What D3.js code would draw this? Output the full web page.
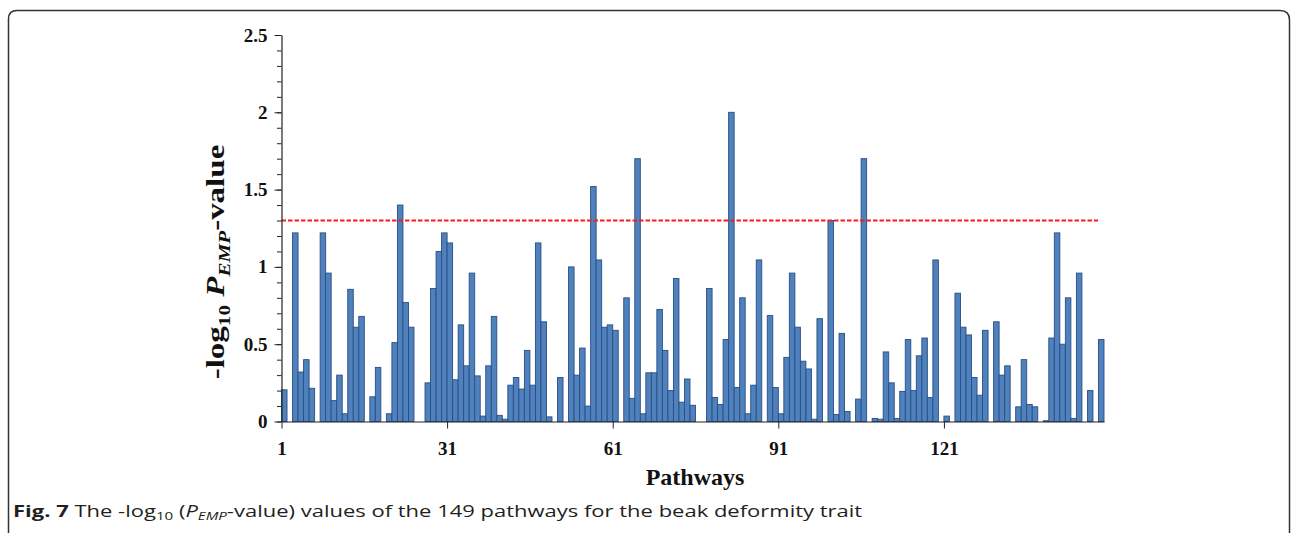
<!DOCTYPE html>
<html>
<head>
<meta charset="utf-8">
<script src="https://cdn.jsdelivr.net/npm/d3@7"></script>
<style>
	body{margin:0;background:#fff;}
	svg{display:block;}
</style>
</head>
<body>
<div id="chart"></div>
<script>
/* data */
var pathways = d3.range(1, 150);
var pathwayValues = [
	0.205, 0, 1.22, 0.32, 0.40, 0.215, 0, 1.22, 0.96, 0.135,
	0.30, 0.05, 0.855, 0.61, 0.68, 0, 0.16, 0.35, 0, 0.05,
	0.51, 1.40, 0.77, 0.61, 0, 0, 0.25, 0.86, 1.10, 1.22,
	1.155, 0.27, 0.625, 0.36, 0.96, 0.295, 0.035, 0.36, 0.68, 0.04,
	0.015, 0.235, 0.285, 0.21, 0.46, 0.235, 1.155, 0.645, 0.03, 0,
	0.285, 0, 1.0, 0.30, 0.475, 0.10, 1.52, 1.045, 0.61, 0.625,
	0.59, 0, 0.80, 0.15, 1.70, 0.05, 0.315, 0.315, 0.725, 0.46,
	0.20, 0.925, 0.125, 0.275, 0.105, 0, 0, 0.86, 0.155, 0.11,
	0.53, 2.0, 0.22, 0.80, 0.05, 0.235, 1.045, 0, 0.685, 0.22,
	0.05, 0.415, 0.96, 0.61, 0.39, 0.34, 0.015, 0.665, 0, 1.30,
	0.045, 0.57, 0.065, 0, 0.145, 1.70, 0, 0.02, 0.015, 0.45,
	0.25, 0.02, 0.195, 0.53, 0.20, 0.425, 0.54, 0.155, 1.045, 0,
	0.035, 0, 0.83, 0.61, 0.56, 0.285, 0.17, 0.59, 0, 0.645,
	0.30, 0.36, 0, 0.095, 0.40, 0.11, 0.095, 0, 0.005, 0.54,
	1.22, 0.50, 0.80, 0.02, 0.96, 0, 0.20, 0, 0.53
];
var xTickValues = [1, 31, 61, 91, 121];
var yTickValues = [0, 0.5, 1, 1.5, 2, 2.5];
var threshold = 1.3; // -log10(0.05)

var W = 1293, H = 533;
var serif = "'Liberation Serif', 'Times New Roman', serif";

var svg = d3.select("#chart")
	.append("svg")
	.attr("width", W)
	.attr("height", H);

svg.append("rect").attr("width", W).attr("height", H).attr("fill", "#fff");

// figure frame, open at the bottom
svg.append("path")
	.attr("d", "M8.5,533 V19 Q8.5,10.5 17,10.5 H1280 Q1289.5,10.5 1289.5,20 V533")
	.attr("fill", "none")
	.attr("stroke", "#333")
	.attr("stroke-width", 1.5);

var x = d3.scaleBand()
	.domain(pathways)
	.range([281.5, 1104])
	.padding(0);

// linear scale so ticks sit on the bar edges
var xEdge = d3.scaleLinear()
	.domain([1, 150])
	.range([281.5, 1104]);

var y = d3.scaleLinear()
	.domain([0, 2.5])
	.range([421.5, 35]);

var data = pathways.map(function(p, i){ return {p: p, v: pathwayValues[i]}; });

svg.selectAll("rect.bar")
	.data(data.filter(function(d){ return d.v > 0; }))
	.enter()
	.append("rect")
	.attr("class", "bar")
	.attr("x", function(d){ return x(d.p); })
	.attr("y", function(d){ return y(d.v); })
	.attr("width", x.bandwidth())
	.attr("height", function(d){ return y(0) - y(d.v); })
	.attr("fill", "#4f81bd")
	.attr("stroke", "#2a4d85")
	.attr("stroke-width", 0.9);

// threshold line
svg.append("line")
	.attr("x1", 281.5)
	.attr("x2", 1098)
	.attr("y1", y(threshold))
	.attr("y2", y(threshold))
	.attr("stroke", "#ff1a1a")
	.attr("stroke-width", 2)
	.attr("stroke-dasharray", "4.5,2");

// y axis minor ticks
svg.append("g")
	.attr("transform", "translate(281.5,0)")
	.call(d3.axisLeft(y).tickValues(d3.range(0, 26).map(function(i){ return i / 10; })).tickSize(4.5).tickFormat(""))
	.call(function(g){ g.select(".domain").remove(); })
	.selectAll("line").attr("stroke", "#222");

// y axis major
var yAxis = svg.append("g")
	.attr("transform", "translate(281.5,0)")
	.call(d3.axisLeft(y).tickValues(yTickValues).tickSize(7).tickPadding(7).tickSizeOuter(0).tickFormat(d3.format("")));

// x axis
var xAxis = svg.append("g")
	.attr("transform", "translate(0," + y(0) + ")")
	.call(d3.axisBottom(xEdge).tickValues(xTickValues).tickSize(7).tickPadding(13).tickSizeOuter(0).tickFormat(d3.format("d")));

[yAxis, xAxis].forEach(function(g){
	g.select(".domain").attr("stroke", "#222").attr("stroke-width", 1.2);
	g.selectAll(".tick line").attr("stroke", "#222");
	g.selectAll("text")
		.attr("fill", "#111")
		.style("font-family", serif)
		.style("font-weight", "bold")
		.style("font-size", "19px");
});

// axis titles
svg.append("text")
	.attr("x", 695)
	.attr("y", 485)
	.attr("text-anchor", "middle")
	.style("font-family", serif)
	.style("font-weight", "bold")
	.style("font-size", "24px")
	.attr("fill", "#111")
	.text("Pathways");

// y title is drawn a bit stretched along its length, like the original
var yTitle = svg.append("text")
	.attr("transform", "translate(224,262) rotate(-90) scale(1.32,1)")
	.attr("text-anchor", "middle")
	.style("font-family", serif)
	.style("font-weight", "bold")
	.style("font-size", "25px")
	.attr("fill", "#111");
yTitle.append("tspan").text("-log");
yTitle.append("tspan").attr("dy", 6).style("font-size", "16px").text("10");
yTitle.append("tspan").attr("dy", -6).text(" ");
yTitle.append("tspan").style("font-style", "italic").text("P");
yTitle.append("tspan").attr("dy", 6).style("font-size", "16px").style("font-style", "italic").text("EMP");
yTitle.append("tspan").attr("dy", -6).text("-value");

// caption (original is horizontally stretched)
var sans = "'Open Sans', 'Noto Sans', sans-serif";
var cap = svg.append("text")
	.attr("transform", "translate(13,517) scale(1.375,1)")
	.style("font-family", sans)
	.style("font-size", "16px")
	.attr("fill", "#231f20");
cap.append("tspan").style("font-weight", "bold").text("Fig. 7");
cap.append("tspan").text(" The -log");
cap.append("tspan").attr("dy", 3).style("font-size", "11px").text("10");
cap.append("tspan").attr("dy", -3).text(" (");
cap.append("tspan").style("font-style", "italic").text("P");
cap.append("tspan").attr("dy", 3).style("font-size", "11px").style("font-style", "italic").text("EMP");
cap.append("tspan").attr("dy", -3).text("-value) values of the 149 pathways for the beak deformity trait");
</script>
</body>
</html>
